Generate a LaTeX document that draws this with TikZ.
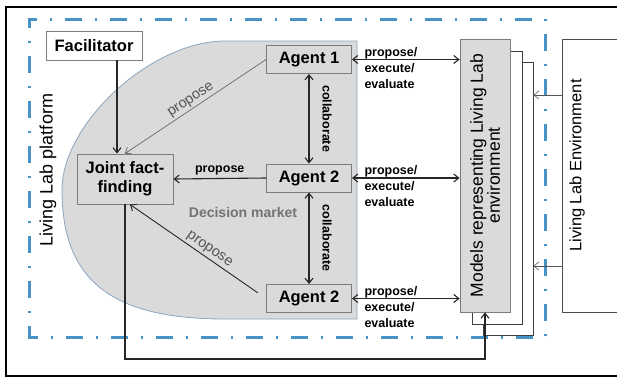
\documentclass[tikz,border=0pt]{standalone}
\usepackage{fontspec}
\setmainfont{Liberation Sans}
\usetikzlibrary{arrows.meta}
\definecolor{platformblue}{RGB}{72,146,196}
\definecolor{marketgray}{RGB}{218,218,218}
\definecolor{marketedge}{RGB}{140,165,190}
\definecolor{boxedge}{RGB}{125,125,125}
\definecolor{labelgray}{RGB}{85,85,85}

\begin{document}
\begin{tikzpicture}
      [   x=1pt,y=-1pt,
          >={Straight Barb[length=5pt,width=8pt]},
          box/.style={draw=boxedge,fill=#1,line width=0.9pt,inner sep=2pt,align=center,font=\fontsize{16.5}{19}\selectfont\bfseries},
          agent/.style={box=marketgray,minimum width=85pt,minimum height=28pt},
          sheet/.style={draw=#1,line width=0.8pt,minimum width=50pt,minimum height=273pt},
          link/.style={line width=1.1pt,draw=black!85},
          note/.style={font=\fontsize{12.5}{16}\selectfont\bfseries},
          pel/.style={note,pos=0,anchor=north west,xshift=12pt,yshift=13pt,inner sep=0pt,align=left},
          lbl/.style={font=\fontsize{14.5}{16}\selectfont,text=labelgray,inner sep=2pt},
      ]
          \useasboundingbox (0,0) rectangle (617,378);
          % frames
          \draw[line width=1.5pt] (617,7) -- (6,7) -- (6,376) -- (617,376);
          \draw[platformblue,line width=3pt,dash pattern=on 17pt off 13pt on 2pt off 13pt]
              (29,329) -- (29,337) -- (545,337) -- (545,19) -- (29,19) -- cycle;
          \node[font=\fontsize{18}{20}\selectfont,rotate=90] (platform) at (48,170) {Living Lab platform};
          % decision market
          \fill[marketgray,draw=marketedge,line width=0.8pt] (357,41) -- (225,41)
              .. controls (151.6,41) and (62,123) .. (62,190)
              .. controls (62,280) and (111,319) .. (225,319) -- (357,319) -- cycle;
          \node[font=\fontsize{14}{16}\selectfont\bfseries,text=black!55] (market) at (243,212) {Decision market};
          \node[box=white,minimum width=96pt,minimum height=29pt] (fac) at (94,45.5) {Facilitator};
          \node[box=marketgray,minimum width=96pt,minimum height=50pt] (joint) at (125,179) {Joint fact-\\finding};
          % models
          \node[sheet=black!75,fill=white] (sheet-2) at (508,199) {};
          \node[sheet=black!75,fill=white] (sheet-1) at (497,187.5) {};
          \node[sheet=boxedge,fill=marketgray] (models) at (485,175.5) {};
          \node[font=\fontsize{17.5}{17}\selectfont,align=center,rotate=90] (models-text) at (models.center) {Models representing Living Lab\\environment};
          % environment
          \draw[line width=0.8pt,black!70] (617,39) -- (562,39) -- (562,312) -- (617,312);
          \node[font=\fontsize{16.5}{18}\selectfont,rotate=90] (env) at (577,165.5) {Living Lab Environment};
          \coordinate (env-a) at (562,95);
          \coordinate (env-b) at (562,266);
          \draw[line width=0.6pt,labelgray,->] (env-a) -- (env-a -| sheet-2.east);
          \draw[line width=0.6pt,labelgray,->] (env-b) -- (env-b -| sheet-2.east);
          % agents
          \foreach \i/\y/\n in {1/59.5/1,2/178/2,3/298.5/2}
          {   \node[agent] (ag-\i) at (309,\y) {Agent \n};
              \draw[link,<->] (ag-\i.east) -- node[pel] {propose/\\execute/\\evaluate} (ag-\i.east -| models.west);
          }
          \draw[link,<->] (ag-1) -- node[note,xshift=18pt,rotate=-90] {collaborate} (ag-2);
          \draw[link,<->] (ag-2) -- node[note,xshift=18pt,rotate=-90] {collaborate} (ag-3);
          % proposals
          \coordinate (fac-out) at (117,60);
          \draw[link,->] (fac-out) -- (fac-out |- joint.north);
          \draw[line width=0.6pt,labelgray,->] (ag-1.west) -- node[lbl,above,sloped] {propose} (joint.north);
          \draw[link,->] (ag-2.west) -- node[note,above] {propose} (joint.east);
          \draw[line width=0.9pt,black!85,->,shorten <=10pt] (ag-3.west) -- node[lbl,above,sloped,pos=0.45] {propose} ([xshift=5pt]joint.south);
          % feedback to models
          \coordinate (ret) at (300,359);
          \draw[link,->] (joint.south) |- (ret) -| (models.south);
    \end{tikzpicture}
\end{document}
